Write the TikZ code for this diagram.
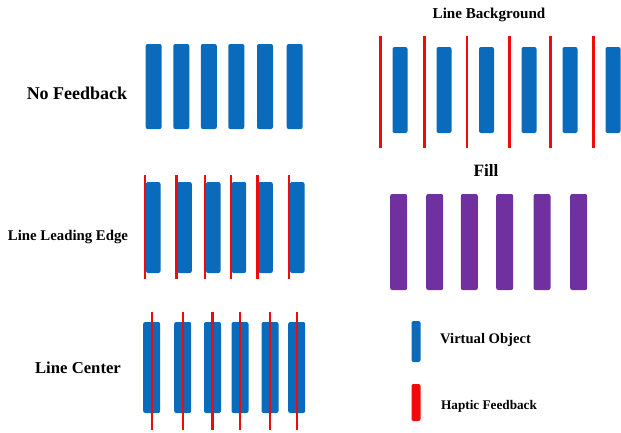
\documentclass[tikz,border=0pt]{standalone}
\usepackage{fontspec}
\setmainfont{Liberation Serif}
\definecolor{vblue}{HTML}{0A6BBD}
\definecolor{hred}{HTML}{F00A0A}
\definecolor{fpurple}{HTML}{7030A0}
\begin{document}
\begin{tikzpicture}[x=1pt,y=-1pt,
    vobj/.style={fill=vblue, rounded corners=2pt},
    haptic/.style={draw=hred, line width=2.4pt},
    lab/.style={inner sep=0pt, font=\fontsize{#1}{#1}\selectfont\bfseries}]
\useasboundingbox (0,0) rectangle (621,432);
% left column
\node[lab=18](nofb) at (77,93){No Feedback};
\foreach \x in {153.7,181.3,208.8,236.3,265,294.7}
    \fill[vobj](\x-8,44) rectangle (\x+8,129);
\node[lab=14.8](edge) at (68,237){Line Leading Edge};
\foreach \x in {146,177.3,206,231.7,258.3,290}{
    \fill[vobj](\x,182) rectangle (\x+14.5,273);
    \draw[haptic](\x-0.8,175)--(\x-0.8,279);}
\node[lab=16.7](center) at (78,368){Line Center};
\foreach \x in {151.7,182.7,212.5,240,270,296.7}{
    \fill[vobj](\x-8.5,322) rectangle (\x+8.5,413);
    \draw[haptic](\x,312)--(\x,430);}
% right column
\node[lab=15.1](backg) at (489,15){Line Background};
\foreach \x in {400,444,486.5,529,570,613}{
    \fill[vobj](\x-7.5,47) rectangle (\x+7.5,133);
    \draw[haptic](\x-19.5,36)--(\x-19.5,148);}
\node[lab=17.3](fill) at (486,170){Fill};
\foreach \x in {398.7,434.7,469.3,504.7,542,578.7}
    \fill[fpurple, rounded corners=2pt](\x-8.5,194) rectangle (\x+8.5,290);
% legend
\fill[vobj](411.5,321) rectangle (420.5,362);
\node[lab=14.6, anchor=west](vo) at (440,340){Virtual Object};
\fill[hred, rounded corners=2pt](411.5,384) rectangle (420.5,421);
\node[lab=13.2, anchor=west](hf) at (441,406){Haptic Feedback};
\end{tikzpicture}
\end{document}
